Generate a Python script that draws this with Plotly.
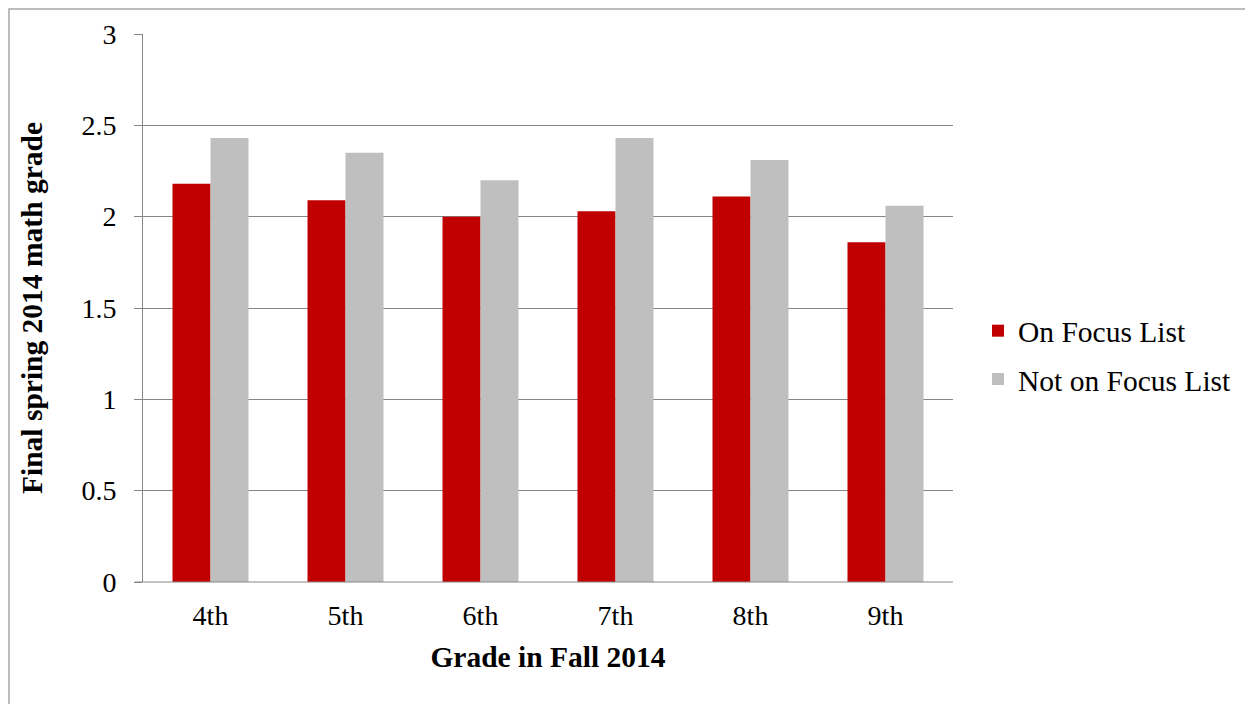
import plotly.graph_objects as go

grades = ["4th", "5th", "6th", "7th", "8th", "9th"]
on_focus = [2.18, 2.09, 2.00, 2.03, 2.11, 1.86]
not_on_focus = [2.43, 2.35, 2.20, 2.43, 2.31, 2.06]
series_names = ["On Focus List", "Not on Focus List"]
y_ticks = [0, 0.5, 1, 1.5, 2, 2.5, 3]
y_tick_labels = ["0", "0.5", "1", "1.5", "2", "2.5", "3"]

FONT = "Liberation Serif"
OFF = 8  # page body margin offset
W, H = 1253 - OFF, 704 - OFF
# plot area in screen pixels: x 143..953, y 34..582
L, T = 143 - OFF, 34 - OFF
R = W - (953 - OFF)
B = H - (582 - OFF)

fig = go.Figure()
fig.add_trace(go.Bar(x=grades, y=on_focus, name=series_names[0],
                     marker=dict(color="#C00000", line=dict(width=0)),
                     legendgroup="a"))
fig.add_trace(go.Bar(x=grades, y=not_on_focus, name=series_names[1],
                     marker=dict(color="#BFBFBF", line=dict(width=0)),
                     legendgroup="b"))

pw = W - L - R
ph = H - T - B

def px_x(x):  # screen x -> paper
    return (x - OFF - L) / pw

def px_y(y):  # screen y -> paper
    return (H - B - (y - OFF)) / ph

fig.update_layout(
    width=W, height=H,
    margin=dict(l=L, r=R, t=T, b=B, autoexpand=False),
    paper_bgcolor="white", plot_bgcolor="white",
    barmode="group", bargap=0.437, bargroupgap=0,
    font=dict(family=FONT, size=28, color="black"),
    showlegend=True,
    legend=dict(x=px_x(978), y=px_y(355), xanchor="left", yanchor="middle",
                font=dict(family=FONT, size=29.5, color="black"),
                traceorder="grouped", tracegroupgap=7, itemwidth=30,
                bgcolor="rgba(0,0,0,0)"),
    xaxis=dict(
        showgrid=False, showline=False, ticks="",
        tickfont=dict(family=FONT, size=28),
        ticklabelstandoff=14,
        title=dict(text="<b>Grade in Fall 2014</b>", font=dict(family=FONT, size=29.5), standoff=16),
    ),
    yaxis=dict(
        range=[0, 3], tickvals=y_ticks, ticktext=y_tick_labels,
        showgrid=True, gridcolor="#868686", gridwidth=1,
        showline=True, linecolor="#868686", linewidth=1,
        ticks="outside", ticklen=8, tickcolor="#868686", tickwidth=1,
        tickfont=dict(family=FONT, size=28),
        ticklabelstandoff=12,
        zeroline=False,
        title=dict(text="<b>Final spring 2014 math grade</b>", font=dict(family=FONT, size=29.5), standoff=30),
    ),
    shapes=[
        dict(type="line", xref="paper", yref="paper", x0=px_x(135), x1=1, y0=0, y1=0,
             line=dict(color="#868686", width=1)),
        dict(type="rect", xref="paper", yref="paper",
             x0=px_x(9), x1=px_x(1250), y0=px_y(712), y1=px_y(9),
             line=dict(color="#A6A6A6", width=1.5), fillcolor="rgba(0,0,0,0)", layer="below"),
    ],
)

fig.write_html("out.html")
